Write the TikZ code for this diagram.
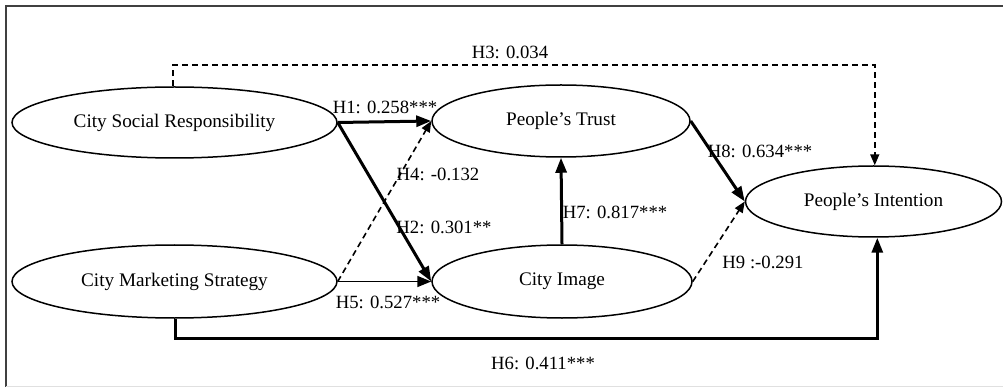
\documentclass[tikz,border=0pt]{standalone}
\usepackage{fontspec}
\setmainfont{Liberation Serif}
\usetikzlibrary{arrows.meta,shapes.geometric}
\begin{document}
\begin{tikzpicture}[x=1pt,y=-1pt,
  construct/.style={draw, ellipse, line width=1.5pt, inner sep=0pt, font=\fontsize{19.2}{23}\selectfont},
  lbl/.style={inner sep=0pt, font=\fontsize{18.7}{22}\selectfont},
  strong/.style={line width=3pt, -{Triangle[length=15pt,width=11pt]}},
  weak/.style={line width=1.6pt, -{Triangle[length=14pt,width=11pt]}},
  insig/.style={line width=1.6pt, dash pattern=on 6pt off 4pt, -{Triangle[length=11pt,width=9pt]}}]
\useasboundingbox (0,0) rectangle (1003,387);
\fill[white] (0,0) rectangle (1003,387);
\draw[line width=1.5pt, black!75] (6,387) -- (6,6) -- (1003,6);
\draw[line width=0.8pt, black!12] (6,386) -- (1003,386);

\node[construct, minimum width=325pt, minimum height=71pt] (csr) at (174.5,122.5) {City Social Responsibility};
\node[construct, minimum width=325pt, minimum height=73pt] (cms) at (174.5,281.5) {City Marketing Strategy};
\node[construct, minimum width=258pt, minimum height=72pt] (pt) at (561,121) {People’s Trust};
\node[construct, minimum width=260pt, minimum height=73pt] (ci) at (562,281.5) {City Image};
\node[construct, minimum width=256pt, minimum height=71pt] (pi) at (873.5,201.5) {People’s Intention};

\coordinate (toprail) at (0,65);
\coordinate (botrail) at (0,338);

\draw[insig] (csr.92) -- (csr.92 |- toprail) -| (pi.88);
\draw[strong] (csr.east) -- (pt.west);
\draw[strong] (csr.east) -- (ci.west);
\draw[insig] (cms.east) -- (pt.west);
\draw[weak] (cms.east) -- (ci.west);
\draw[strong] (cms.-89) -- (cms.-89 |- botrail) -| (pi.-84);
\draw[strong] (ci.north) -- (pt.south);
\draw[strong] (pt.east) -- (pi.west);
\draw[insig] (ci.east) -- (pi.west);

\node[lbl] (l3) at (510,52) {H3: 0.034};
\node[lbl] (l1) at (385,107) {H1: 0.258***};
\node[lbl] (l4) at (438,174) {H4: -0.132};
\node[lbl] (l2) at (444,227) {H2: 0.301**};
\node[lbl] (l5) at (388,302) {H5: 0.527***};
\node[lbl] (l6) at (543,363) {H6: 0.411***};
\node[lbl] (l7) at (615,212) {H7: 0.817***};
\node[lbl] (l8) at (760,151) {H8: 0.634***};
\node[lbl] (l9) at (763,262) {H9 :-0.291};
\end{tikzpicture}
\end{document}
